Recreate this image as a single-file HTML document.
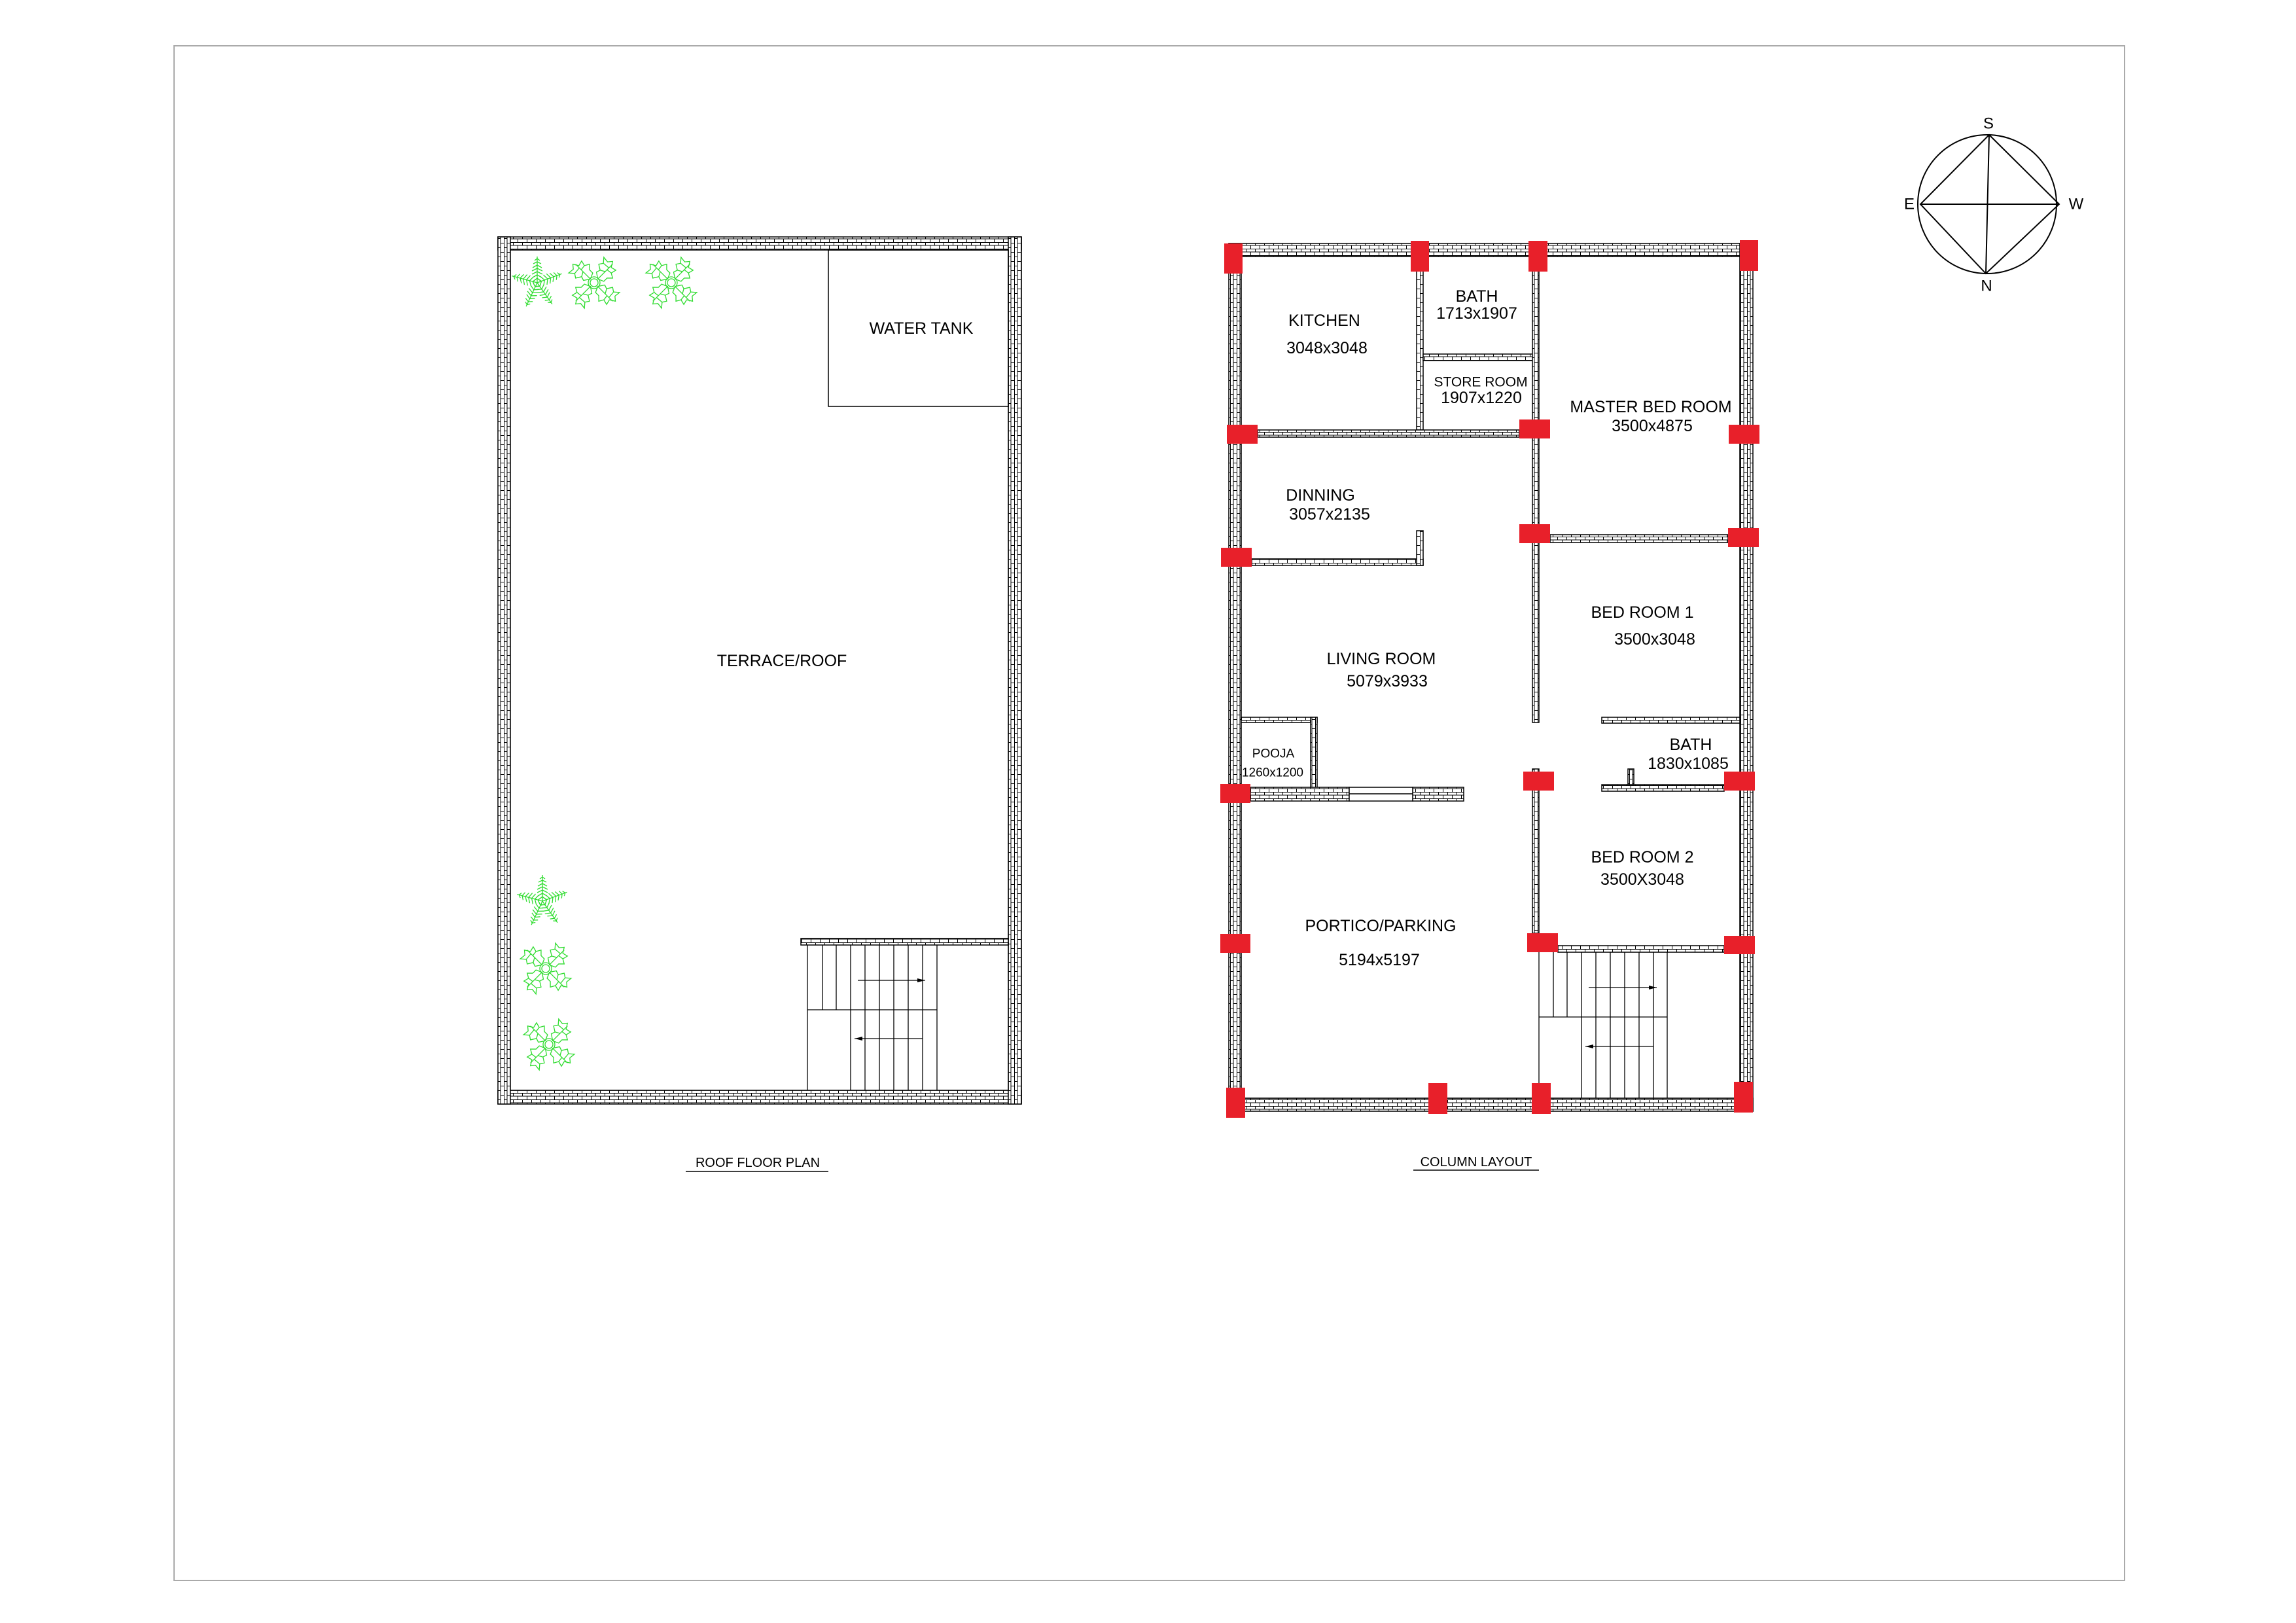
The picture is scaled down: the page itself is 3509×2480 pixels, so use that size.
<!DOCTYPE html>
<html><head><meta charset="utf-8"><style>
html,body{margin:0;padding:0;background:#fff}
svg{display:block}
text{font-family:"Liberation Sans",Arial,sans-serif;fill:#000}
</style></head><body>
<svg width="3509" height="2480" viewBox="0 0 3509 2480" xmlns="http://www.w3.org/2000/svg">
<defs>
<pattern id="bh" width="14" height="10" patternUnits="userSpaceOnUse"><rect width="14" height="10" fill="#fff"/><path d="M0 0.5H14M0 5H14M0.5 0V5M7.5 5V10" stroke="#000" stroke-width="1" fill="none"/></pattern>
<pattern id="bv" width="10" height="14" patternUnits="userSpaceOnUse"><rect width="10" height="14" fill="#fff"/><path d="M0.5 0V14M5 0V14M0 0.5H5M5 7.5H10" stroke="#000" stroke-width="1" fill="none"/></pattern>
<g id="frond" stroke="#2fdc2f" stroke-width="1.3" fill="none"><path d="M0 0L40 0M7 0l-4 -5M7 0l-4 5M12 0l-4 -7M12 0l-4 7M17 0l-4 -8M17 0l-4 8M22 0l-4 -8M22 0l-4 8M27 0l-4 -7M27 0l-4 7M32 0l-3 -6M32 0l-3 6M37 0l-3 -4M37 0l-3 4"/></g>
<g id="palm"><use href="#frond" transform="rotate(-90)"/><use href="#frond" transform="rotate(-20)"/><use href="#frond" transform="rotate(55)"/><use href="#frond" transform="rotate(115)"/><use href="#frond" transform="rotate(195)"/></g>
<g id="leaf" stroke="#2fdc2f" stroke-width="1.3" fill="none"><polygon points="8,0 14,-9 20,-7 25,-15 31,-11 38,-17 37,-8 43,-3 35,2 37,10 29,8 25,15 19,9 12,9"/><path d="M8 0L40 0M20 -7L24 0M31 -11L32 0M29 8L28 0"/></g>
<g id="flower"><use href="#leaf" transform="rotate(-45)"/><use href="#leaf" transform="rotate(45)"/><use href="#leaf" transform="rotate(135)"/><use href="#leaf" transform="rotate(225)"/><circle r="9" stroke="#2fdc2f" stroke-width="1.3" fill="none"/><circle r="6" stroke="#2fdc2f" stroke-width="1.3" fill="none"/></g>
<marker id="ah" viewBox="0 0 12 6" refX="12" refY="3" markerWidth="12" markerHeight="6" markerUnits="userSpaceOnUse" orient="auto"><path d="M0 0L12 3L0 6Z" fill="#000"/></marker>
</defs>

<rect x="266" y="70" width="2981" height="2345" fill="none" stroke="#aaa" stroke-width="2"/>

<!-- ROOF PLAN -->
<g stroke="#000" stroke-width="1.5">
<rect x="761" y="362" width="800" height="20" fill="url(#bh)"/>
<rect x="761" y="1666" width="800" height="21" fill="url(#bh)"/>
<rect x="761" y="362" width="19" height="1325" fill="url(#bv)"/>
<rect x="1541" y="362" width="20" height="1325" fill="url(#bv)"/>
<rect x="780" y="382" width="761" height="1284" fill="#fff"/>
<rect x="1266" y="382" width="275" height="239" fill="none"/>
<rect x="1224" y="1434" width="317" height="10" fill="url(#bh)"/>
</g>
<g stroke="#000" stroke-width="1.3" fill="none">
<path d="M1234 1444V1666M1257 1444V1543M1278 1444V1543M1300 1444V1666M1322 1444V1666M1344 1444V1666M1366 1444V1666M1388 1444V1666M1410 1444V1666M1432 1444V1666M1234 1543H1432"/>
<line x1="1311" y1="1498" x2="1414" y2="1498" marker-end="url(#ah)"/>
<line x1="1410" y1="1587" x2="1306" y2="1587" marker-end="url(#ah)"/>
</g>
<use href="#palm" x="821" y="432"/>
<use href="#flower" x="908" y="432"/>
<use href="#flower" x="1026" y="432"/>
<use href="#palm" x="829" y="1377"/>
<use href="#flower" x="834" y="1480"/>
<use href="#flower" x="839" y="1596"/>
<text x="1408" y="502" font-size="25" text-anchor="middle" dominant-baseline="central">WATER TANK</text>
<text x="1195" y="1010" font-size="25" text-anchor="middle" dominant-baseline="central">TERRACE/ROOF</text>
<text x="1158" y="1783" font-size="20" text-anchor="middle">ROOF FLOOR PLAN</text>
<line x1="1048" y1="1790" x2="1266" y2="1790" stroke="#000" stroke-width="1.5"/>

<!-- COLUMN LAYOUT -->
<g stroke="#000" stroke-width="1.5">
<rect x="1878" y="372" width="801" height="20" fill="url(#bh)"/>
<rect x="1878" y="1678" width="801" height="20" fill="url(#bh)"/>
<rect x="1878" y="372" width="19" height="1326" fill="url(#bv)"/>
<rect x="2659" y="372" width="20" height="1326" fill="url(#bv)"/>
<rect x="1897" y="392" width="762" height="1286" fill="#fff"/>
<rect x="2165" y="392" width="10" height="265" fill="url(#bv)"/>
<rect x="2175" y="541" width="175" height="10" fill="url(#bh)"/>
<rect x="2342" y="392" width="10" height="712" fill="url(#bv)"/>
<rect x="1922" y="657" width="400" height="11" fill="url(#bh)"/>
<rect x="1913" y="854" width="262" height="10" fill="url(#bh)"/>
<rect x="2165" y="811" width="10" height="53" fill="url(#bv)"/>
<rect x="2369" y="817" width="272" height="12" fill="url(#bh)"/>
<rect x="2448" y="1096" width="211" height="9" fill="url(#bh)"/>
<rect x="2448" y="1199" width="187" height="10" fill="url(#bh)"/>
<rect x="2488" y="1175" width="9" height="24" fill="url(#bv)"/>
<rect x="1897" y="1096" width="116" height="8" fill="url(#bh)"/>
<rect x="2003" y="1096" width="10" height="108" fill="url(#bv)"/>
<rect x="1911" y="1203" width="151" height="21" fill="url(#bh)"/>
<rect x="2159" y="1203" width="78" height="21" fill="url(#bh)"/>
<rect x="2062" y="1203" width="97" height="21" fill="#fff"/>
<line x1="2062" y1="1213" x2="2159" y2="1213"/>
<rect x="2342" y="1175" width="10" height="251" fill="url(#bv)"/>
<rect x="2381" y="1445" width="254" height="10" fill="url(#bh)"/>
</g>
<g stroke="#000" stroke-width="1.3" fill="none">
<path d="M2352 1455V1678M2374 1455V1554M2395 1455V1554M2417 1455V1678M2439 1455V1678M2461 1455V1678M2483 1455V1678M2505 1455V1678M2527 1455V1678M2548 1455V1678M2352 1554H2548"/>
<line x1="2428" y1="1509" x2="2532" y2="1509" marker-end="url(#ah)"/>
<line x1="2527" y1="1599" x2="2423" y2="1599" marker-end="url(#ah)"/>
</g>
<g fill="#e8202a">
<rect x="1871" y="372" width="28" height="46"/>
<rect x="2156" y="368" width="28" height="47"/>
<rect x="2336" y="368" width="29" height="47"/>
<rect x="2659" y="367" width="28" height="47"/>
<rect x="1875" y="649" width="47" height="29"/>
<rect x="2322" y="641" width="47" height="29"/>
<rect x="2642" y="649" width="47" height="29"/>
<rect x="2322" y="801" width="47" height="29"/>
<rect x="2641" y="807" width="47" height="29"/>
<rect x="1866" y="837" width="47" height="29"/>
<rect x="1865" y="1198" width="46" height="29"/>
<rect x="2328" y="1179" width="47" height="29"/>
<rect x="2635" y="1179" width="47" height="29"/>
<rect x="1865" y="1427" width="46" height="29"/>
<rect x="2334" y="1426" width="47" height="29"/>
<rect x="2635" y="1430" width="47" height="28"/>
<rect x="1874" y="1662" width="29" height="46"/>
<rect x="2183" y="1655" width="29" height="47"/>
<rect x="2341" y="1655" width="29" height="47"/>
<rect x="2650" y="1653" width="29" height="47"/>
</g>
<g font-size="25" text-anchor="middle" dominant-baseline="central">
<text x="2024" y="490">KITCHEN</text>
<text x="2028" y="532">3048x3048</text>
<text x="2257" y="453">BATH</text>
<text x="2257" y="479">1713x1907</text>
<text x="2263" y="584" font-size="21">STORE ROOM</text>
<text x="2264" y="608">1907x1220</text>
<text x="2523" y="622">MASTER BED ROOM</text>
<text x="2525" y="651">3500x4875</text>
<text x="2018" y="757">DINNING</text>
<text x="2032" y="786">3057x2135</text>
<text x="2510" y="936">BED ROOM 1</text>
<text x="2529" y="977">3500x3048</text>
<text x="2111" y="1007">LIVING ROOM</text>
<text x="2120" y="1041">5079x3933</text>
<text x="2584" y="1138">BATH</text>
<text x="2580" y="1167">1830x1085</text>
<text x="1946" y="1152" font-size="19">POOJA</text>
<text x="1945" y="1181" font-size="19">1260x1200</text>
<text x="2510" y="1310">BED ROOM 2</text>
<text x="2510" y="1344">3500X3048</text>
<text x="2110" y="1415">PORTICO/PARKING</text>
<text x="2108" y="1467">5194x5197</text>
</g>
<text x="2256" y="1782" font-size="20" text-anchor="middle">COLUMN LAYOUT</text>
<line x1="2160" y1="1788" x2="2352" y2="1788" stroke="#000" stroke-width="1.5"/>

<!-- COMPASS -->
<g stroke="#000" stroke-width="2" fill="none">
<circle cx="3037" cy="312" r="106"/>
<path d="M3040 206L3147 312L3035 418L2935 312Z"/>
<line x1="3040" y1="206" x2="3035" y2="418"/>
<line x1="2935" y1="312" x2="3147" y2="312"/>
</g>
<g font-size="24" text-anchor="middle" dominant-baseline="central">
<text x="3039" y="189">S</text>
<text x="2918" y="312">E</text>
<text x="3173" y="312">W</text>
<text x="3036" y="437">N</text>
</g>
</svg>
</body></html>
